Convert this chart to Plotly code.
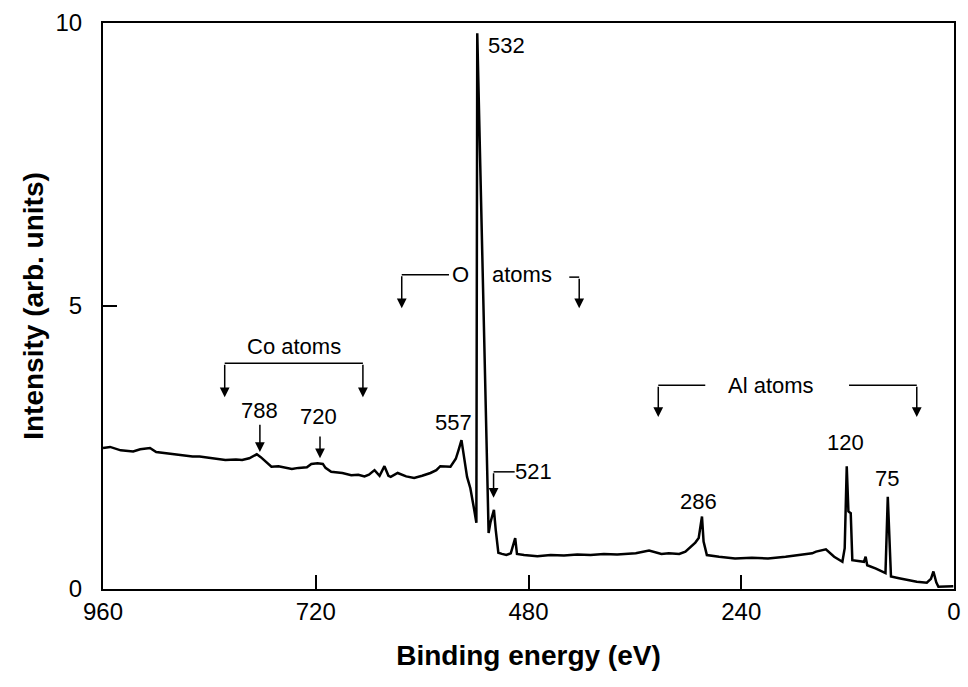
import plotly.graph_objects as go

# ---- spectrum data ----
energy_ev = [960, 952, 940, 926, 918, 907, 900, 889, 875, 859, 851, 835, 822, 810, 803,
             795, 790, 786.5, 782, 776, 770, 762, 754.5, 747, 739.5, 730, 725, 718, 712,
             709, 702.6, 690, 680, 672, 665, 660, 653.7, 648, 642.5, 638, 635.4, 627.6,
             618, 609, 600, 590.6, 584, 579.5, 568, 562, 559, 555.6, 549.3, 545.6, 541.8,
             538.8, 537.8, 531.3, 528, 525, 523, 521.5, 519, 517, 514, 510, 505, 500,
             495, 493, 485, 470, 455, 440, 425, 410, 395, 380, 365, 359, 344, 330, 321.7,
             310, 303, 291.8, 288, 284.3, 282.5, 278.8, 265, 247, 228, 209.8, 190, 172.4,
             160, 155.6, 144.5, 135.2, 125.9, 123.3, 121, 119.1, 116.5, 114.7, 108, 101.6,
             99.7, 97.9, 88, 77.3, 74.7, 72.5, 71.1, 62, 53.1, 42, 30.7, 26, 23.2, 20,
             17.6, 10, 0.8]
intensity = [2.49, 2.51, 2.45, 2.43, 2.47, 2.49, 2.42, 2.40, 2.38, 2.34, 2.34, 2.31, 2.28,
             2.29, 2.28, 2.31, 2.35, 2.38, 2.33, 2.24, 2.16, 2.17, 2.14, 2.12, 2.14, 2.15,
             2.21, 2.22, 2.21, 2.14, 2.07, 2.05, 2.01, 2.02, 1.99, 2.02, 2.10, 2.00, 2.17,
             2.00, 1.98, 2.05, 1.99, 1.96, 2.00, 2.05, 2.10, 2.17, 2.16, 2.30, 2.45, 2.63,
             1.98, 1.78, 1.45, 1.17, 9.82, 5.60, 3.34, 0.99, 1.17, 1.25, 1.40, 1.05, 0.64,
             0.62, 0.60, 0.63, 0.90, 0.62, 0.60, 0.58, 0.60, 0.59, 0.61, 0.60, 0.62, 0.61,
             0.63, 0.63, 0.68, 0.62, 0.63, 0.62, 0.66, 0.82, 0.90, 1.28, 0.84, 0.60, 0.57,
             0.54, 0.55, 0.54, 0.57, 0.60, 0.63, 0.66, 0.70, 0.57, 0.48, 0.72, 2.17, 1.37,
             1.34, 0.51, 0.50, 0.48, 0.57, 0.42, 0.36, 0.28, 1.63, 0.78, 0.22, 0.19, 0.16,
             0.13, 0.11, 0.18, 0.31, 0.12, 0.04, 0.05, 0.05]

x_ticks = [960, 720, 480, 240, 0]
y_ticks = [0, 5, 10]

# ---- peak labels ----
peak_labels = ["532", "788", "720", "557", "521", "286", "120", "75"]
label_ev = [528.5, 783, 717, 565, 474.6, 288.5, 122, 75.8]
label_int = [9.61, 3.16, 3.04, 2.95, 2.07, 1.54, 2.58, 1.96]
label_anchor = ["left", "center", "center", "center", "center", "center", "center", "center"]

# ---- single arrows: (x, y_from, y_to) ----
arrow_ev = [783, 715.2, 519.4]
arrow_from = [2.93, 2.72, 2.07]
arrow_to = [2.42, 2.31, 1.61]

# ---- group brackets ----
group_names = ["Co atoms", "O", "atoms", "Al atoms"]
group_ev = [745, 557, 487.7, 206]
group_int = [4.28, 5.55, 5.55, 3.60]

bracket_lines = [  # (x0, x1, y)
    (822.7, 666.8, 3.99),
    (623.0, 569.7, 5.55),
    (434.0, 422.8, 5.51),
    (333.6, 280.6, 3.60),
    (118.4, 42.0, 3.60),
]
bracket_drops = [  # (x, y_from, y_to)
    (822.7, 3.99, 3.39),
    (666.8, 3.99, 3.39),
    (623.0, 5.55, 4.96),
    (422.8, 5.51, 4.96),
    (333.6, 3.60, 3.04),
    (42.0, 3.60, 3.04),
]

FONT = "Liberation Sans, Arial, sans-serif"

fig = go.Figure()
fig.add_trace(go.Scatter(x=energy_ev, y=intensity, mode="lines",
                         line=dict(color="black", width=2.5), hoverinfo="skip"))

for name, ex, iy, anc in zip(peak_labels, label_ev, label_int, label_anchor):
    fig.add_annotation(x=ex, y=iy, text=name, showarrow=False, xanchor=anc,
                       yanchor="middle", font=dict(family=FONT, size=22, color="black"))

for name, ex, iy in zip(group_names, group_ev, group_int):
    fig.add_annotation(x=ex, y=iy, text=name, showarrow=False, xanchor="center",
                       yanchor="middle", font=dict(family=FONT, size=22, color="black"))

for x0, x1, yy in bracket_lines:
    fig.add_shape(type="line", x0=x0, x1=x1, y0=yy, y1=yy, xref="x", yref="y",
                  line=dict(color="black", width=1.5))

all_arrows = [(a, b, c) for a, b, c in zip(arrow_ev, arrow_from, arrow_to)] + bracket_drops
for ex, y0, y1 in all_arrows:
    fig.add_annotation(x=ex, y=y1, ax=ex, ay=y0, xref="x", yref="y", axref="x", ayref="y",
                       text="", showarrow=True, arrowhead=2, arrowsize=1.3,
                       arrowwidth=1.5, arrowcolor="black")

# horizontal line for the 521 arrow
fig.add_shape(type="line", x0=519.4, x1=495.6, y0=2.07, y1=2.07, xref="x", yref="y",
              line=dict(color="black", width=1.5))

fig.update_layout(
    width=968, height=687,
    margin=dict(l=103, r=7, t=23, b=98),
    paper_bgcolor="white", plot_bgcolor="white",
    showlegend=False,
    font=dict(family=FONT, color="black"),
)
fig.update_xaxes(range=[960, 0], tickvals=x_ticks, ticktext=[str(v) for v in x_ticks],
                 ticks="inside", ticklen=14, tickwidth=1.5, tickcolor="black",
                 showline=True, linewidth=2, linecolor="black", mirror=True,
                 showgrid=False, zeroline=False,
                 tickfont=dict(family=FONT, size=24, color="black"),
                 title=dict(text="Binding energy (eV)", standoff=22,
                            font=dict(family=FONT, size=28, color="black", weight="bold")))
fig.update_yaxes(range=[0, 10], tickvals=y_ticks, ticktext=[str(v) for v in y_ticks],
                 ticks="inside", ticklen=14, tickwidth=1.5, tickcolor="black",
                 showline=True, linewidth=2, linecolor="black", mirror=True,
                 showgrid=False, zeroline=False, ticklabelstandoff=14,
                 tickfont=dict(family=FONT, size=24, color="black"),
                 title=dict(text="Intensity (arb. units)", standoff=4,
                            font=dict(family=FONT, size=28, color="black", weight="bold")))

fig.write_html("out.html")
